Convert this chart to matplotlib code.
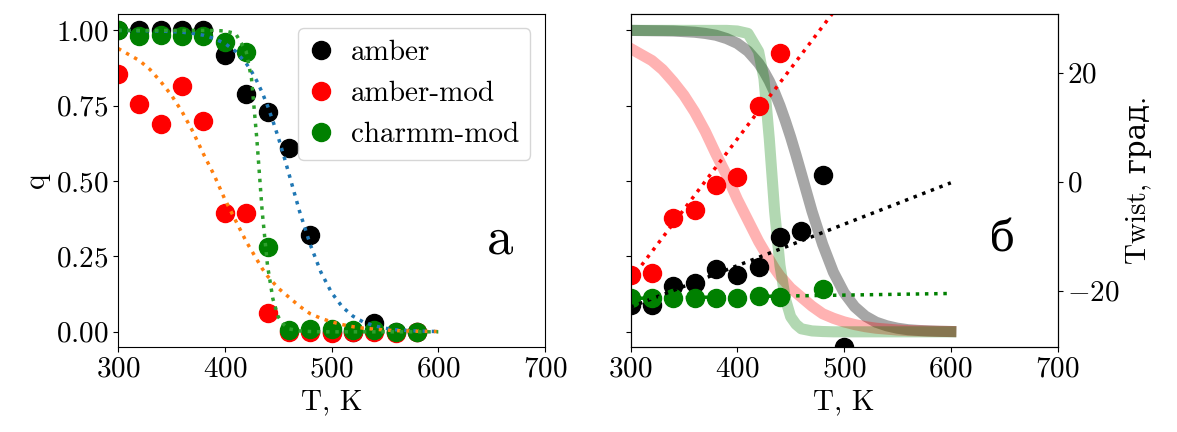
import matplotlib
matplotlib.use("Agg")
import matplotlib.pyplot as plt
import numpy as np

plt.rcParams['font.family'] = ['cmr10', 'DejaVu Serif']
plt.rcParams['mathtext.fontset'] = 'cm'
plt.rcParams['axes.formatter.use_mathtext'] = True
plt.rcParams['font.size'] = 21

# temperatures of the simulations
T = [300, 320, 340, 360, 380, 400, 420, 440, 460, 480, 500, 520, 540, 560, 580]

# fraction of native contacts q
q_amber = [1.0, 1.0, 1.0, 1.0, 1.0, 0.92, 0.79, 0.73, 0.61, 0.32, 0.0, 0.0, 0.03, 0.0, 0.0]
q_ambermod = [0.855, 0.755, 0.69, 0.815, 0.70, 0.395, 0.395, 0.063, 0.0, 0.0, -0.005, 0.0, 0.0, -0.005, 0.0]
q_charmm = [1.0, 0.98, 0.985, 0.98, 0.98, 0.963, 0.927, 0.28, 0.005, 0.01, 0.01, 0.005, 0.005, 0.0, 0.0]

# fitted curves for q
T_fit = [300, 310, 320, 330, 340, 350, 360, 370, 380, 390, 400, 410, 420, 425, 430, 435, 440, 445,
         450, 455, 460, 470, 480, 490, 500, 510, 520, 530, 540, 550, 560, 570, 580, 590, 600]
fit_amber = [1.0, 0.9995, 0.999, 0.9986, 0.998, 0.996, 0.994, 0.990, 0.984, 0.973, 0.957, 0.931, 0.891,
             0.864, 0.832, 0.794, 0.75, 0.70, 0.646, 0.587, 0.525, 0.40, 0.29, 0.198, 0.13, 0.083, 0.052,
             0.032, 0.02, 0.012, 0.007, 0.0045, 0.003, 0.0017, 0.001]
fit_ambermod = [0.94, 0.92, 0.90, 0.87, 0.83, 0.785, 0.73, 0.665, 0.59, 0.52, 0.44, 0.37, 0.30,
                0.27, 0.24, 0.21, 0.185, 0.165, 0.145, 0.13, 0.115, 0.085, 0.06, 0.045, 0.033, 0.024, 0.017,
                0.012, 0.009, 0.006, 0.004, 0.003, 0.002, 0.0015, 0.001]
fit_charmm = [1.0, 1.0, 1.0, 1.0, 1.0, 1.0, 1.0, 1.0, 1.0, 1.0, 0.998, 0.99, 0.93,
              0.84, 0.64, 0.40, 0.22, 0.11, 0.05, 0.025, 0.01, 0.003, 0.001, 0.0, 0.0, 0.0, 0.0,
              0.0, 0.0, 0.0, 0.0, 0.0, 0.0, 0.0, 0.0]

# twist, degrees
T_tw_amber = [300, 320, 340, 360, 380, 400, 420, 440, 460, 480, 500]
tw_amber = [-22.6, -22.6, -19.1, -18.5, -16.0, -17.1, -15.6, -10.1, -9.0, 1.3, -30.4]
T_tw_ambermod = [300, 320, 340, 360, 380, 400, 420, 440]
tw_ambermod = [-17.1, -16.7, -6.6, -5.1, -0.55, 0.9, 13.9, 23.7]
T_tw_charmm = [300, 320, 340, 360, 380, 400, 420, 440, 480]
tw_charmm = [-21.3, -21.4, -21.3, -21.4, -21.4, -21.3, -21.0, -21.2, -19.6]

# linear fits of twist (end points)
T_line = [300, 600]
line_amber = [-23.0, -0.2]
line_ambermod = [-18.0, 59.5]
line_charmm = [-21.4, -20.5]

fig = plt.figure(figsize=(11.77, 4.32), dpi=100)
ax1 = fig.add_axes([0.1003, 0.197, 0.3628, 0.771])
ax2 = fig.add_axes([0.5357, 0.197, 0.3628, 0.771], sharey=ax1)
ax3 = ax2.twinx()

ms = 13
ax1.plot(T, q_amber, 'o', color='k', ms=ms, label='amber')
ax1.plot(T, q_ambermod, 'o', color='r', ms=ms, label='amber-mod')
ax1.plot(T, q_charmm, 'o', color='g', ms=ms, label='charmm-mod')
ax1.plot(T_fit, fit_amber, ':', color='C0', lw=2.5)
ax1.plot(T_fit, fit_ambermod, ':', color='C1', lw=2.5)
ax1.plot(T_fit, fit_charmm, ':', color='C2', lw=2.5)
ax1.set_xlim(300, 700)
ax1.set_ylim(-0.05, 1.055)
ax1.set_xticks([300, 400, 500, 600, 700])
ax1.set_yticks([0.0, 0.25, 0.5, 0.75, 1.0])
ax1.set_xlabel('T, K')
ax1.set_ylabel('q')
ax1.legend(loc='upper right', handlelength=0.8, handletextpad=0.6, fontsize=21)
ax1.text(0.895, 0.32, 'a', transform=ax1.transAxes, fontsize=38, ha='center', va='center')

ax2.plot(T_fit, fit_amber, '-', color='k', lw=8, alpha=0.35, solid_joinstyle='round')
ax2.plot(T_fit, fit_ambermod, '-', color='r', lw=8, alpha=0.3, solid_joinstyle='round')
ax2.plot(T_fit, fit_charmm, '-', color='g', lw=8, alpha=0.3, solid_joinstyle='round')
ax2.set_xlim(300, 700)
ax2.set_xticks([300, 400, 500, 600, 700])
ax2.tick_params(axis='y', labelleft=False)
ax2.set_xlabel('T, K')
ax2.text(0.87, 0.32, 'б', transform=ax2.transAxes, fontsize=30, ha='center', va='center')

ax3.plot(T_tw_amber, tw_amber, 'o', color='k', ms=ms)
ax3.plot(T_tw_ambermod, tw_ambermod, 'o', color='r', ms=ms)
ax3.plot(T_tw_charmm, tw_charmm, 'o', color='g', ms=ms)
ax3.plot(T_line, line_ambermod, ':', color='r', lw=2.5)
ax3.plot(T_line, line_amber, ':', color='k', lw=2.5)
ax3.plot(T_line, line_charmm, ':', color='g', lw=2.5)
ax3.set_ylim(-30.3, 30.8)
ax3.set_yticks([-20, 0, 20])
ax3.set_ylabel('Twist, град.')

fig.savefig('out.png', dpi=100)
